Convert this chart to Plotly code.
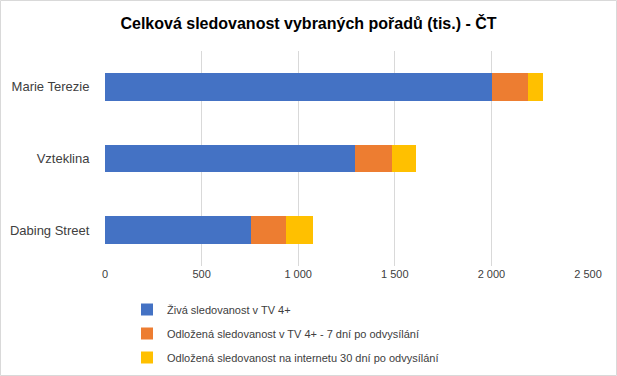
import plotly.graph_objects as go

categories = ["Marie Terezie", "Vzteklina", "Dabing Street"]
series_names = [
    "Živá sledovanost v TV 4+",
    "Odložená sledovanost v TV 4+ - 7 dní po odvysílání",
    "Odložená sledovanost na internetu 30 dní po odvysílání",
]
live_tv = [2001, 1295, 757]
delayed_tv = [187, 191, 181]
internet = [79, 122, 139]
colors = ["#4472C4", "#ED7D31", "#FFC000"]
tick_vals = [0, 500, 1000, 1500, 2000, 2500]

W, H = 617, 376
L, R, T, B = 105, 29, 51, 110

fig = go.Figure()
for i, (name, vals) in enumerate(zip(series_names, [live_tv, delayed_tv, internet])):
    fig.add_trace(go.Bar(
        y=categories, x=vals, name=name, orientation="h",
        marker=dict(color=colors[i], line=dict(width=0)),
        legendgroup=f"g{i}",
    ))

pw = W - L - R
ph = H - T - B
fig.update_layout(
    width=W, height=H,
    margin=dict(l=L, r=R, t=T, b=B, pad=0, autoexpand=False),
    barmode="stack", bargap=0.61,
    paper_bgcolor="white", plot_bgcolor="white",
    separators=", ",
    font=dict(family="Liberation Sans, Arial, sans-serif", size=12, color="#404040"),
    title=dict(
        text="<b>Celková sledovanost vybraných pořadů (tis.) - ČT</b>",
        x=0.5, xanchor="center", y=1 - 23.5 / H, yanchor="middle",
        font=dict(size=16, color="#000000", family="Liberation Sans, Arial, sans-serif"),
    ),
    xaxis=dict(
        range=[0, 2500], tickvals=tick_vals, tickformat=",",
        showgrid=True, gridcolor="#D9D9D9", gridwidth=1,
        zeroline=False, showline=False, ticks="",
        tickfont=dict(size=11, color="#404040"),
        fixedrange=True,
    ),
    yaxis=dict(
        autorange="reversed", showgrid=False, zeroline=False, showline=False,
        ticks="outside", ticklen=12, tickcolor="rgba(0,0,0,0)",
        tickfont=dict(size=13, color="#404040"),
        fixedrange=True,
    ),
    legend=dict(
        orientation="v", x=(127 - L) / pw, xanchor="left",
        y=-(295 - T - ph) / ph, yanchor="top",
        font=dict(size=11, color="#404040"),
        tracegroupgap=5, traceorder="grouped",
        itemwidth=30,
    ),
    shapes=[dict(
        type="rect", xref="paper", yref="paper",
        x0=-(L - 0.5) / pw, x1=1 + (R - 0.5) / pw,
        y0=-(B - 0.5) / ph, y1=1 + (T - 0.5) / ph,
        line=dict(color="#D9D9D9", width=1), fillcolor="rgba(0,0,0,0)",
        layer="below",
    )],
)

fig.write_html(
    "out.html",
    config={"displayModeBar": False},
    post_script="document.body.style.margin='0';document.body.style.padding='0';",
)
